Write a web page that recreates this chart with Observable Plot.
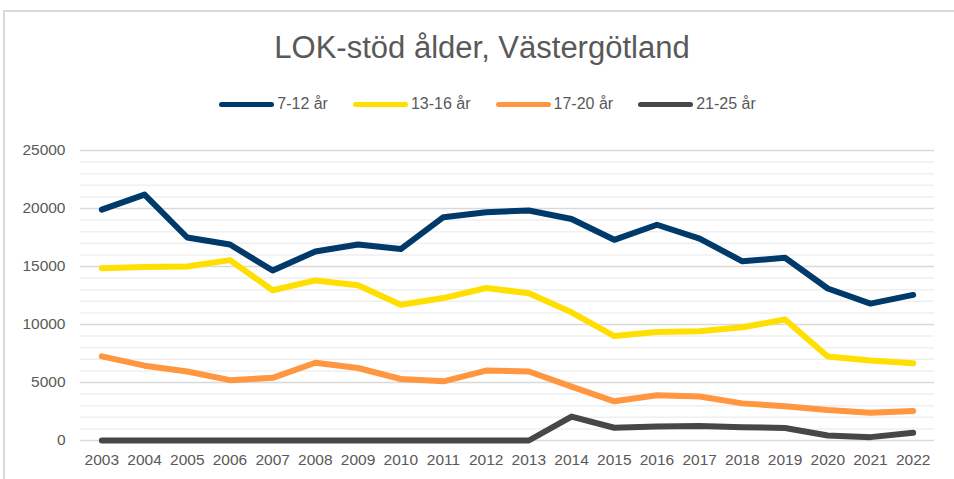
<!DOCTYPE html>
<html>
<head>
<meta charset="utf-8">
<script src="https://cdn.jsdelivr.net/npm/d3@7"></script>
<script src="https://cdn.jsdelivr.net/npm/@observablehq/plot@0.6"></script>
<style>
  html, body { margin: 0; padding: 0; background: #fff; width: 954px; height: 479px; overflow: hidden; }
  body { position: relative; font-family: "Liberation Sans", Arial, sans-serif; color: #595959; }
  #frame { position: absolute; left: 3px; top: 10px; width: 1200px; height: 1200px; border: 2px solid #dadada; box-sizing: border-box; }
  #title { position: absolute; left: 0; top: 32px; width: 964px; text-align: center; font-size: 31px; line-height: 31px; color: #595959; }
  #legend { position: absolute; left: 0; top: 96px; width: 975px; display: flex; justify-content: center; gap: 25px; font-size: 16px; line-height: 16px; color: #595959; }
  .item { display: flex; align-items: center; }
  .sw { width: 55px; height: 5px; border-radius: 3px; margin-right: 3px; }
  #chart { position: absolute; left: 0; top: 130px; }
</style>
</head>
<body>
<div id="frame"></div>
<div id="title">LOK-stöd ålder, Västergötland</div>
<div id="legend"></div>
<div id="chart"></div>
<script>
const years = [2003, 2004, 2005, 2006, 2007, 2008, 2009, 2010, 2011, 2012, 2013, 2014, 2015, 2016, 2017, 2018, 2019, 2020, 2021, 2022];
const seriesNames = ["7-12 år", "13-16 år", "17-20 år", "21-25 år"];
const colors = ["#003A6B", "#FFDF00", "#FF9640", "#474747"];
const age7to12 = [19900, 21200, 17500, 16900, 14650, 16300, 16900, 16500, 19250, 19680, 19830, 19100, 17300, 18600, 17400, 15450, 15750, 13100, 11800, 12550];
const age13to16 = [14850, 14950, 15000, 15550, 12950, 13800, 13380, 11700, 12280, 13150, 12700, 11050, 9000, 9350, 9420, 9760, 10430, 7250, 6900, 6650];
const age17to20 = [7250, 6450, 5950, 5200, 5400, 6700, 6250, 5300, 5100, 6030, 5950, 4650, 3380, 3900, 3800, 3200, 2960, 2630, 2400, 2550];
const age21to25 = [0, 0, 0, 0, 0, 0, 0, 0, 0, 0, 0, 2060, 1100, 1200, 1260, 1150, 1080, 430, 290, 660];
const yTicks = [0, 5000, 10000, 15000, 20000, 25000];
const minorTicks = d3.range(0, 25001, 1000);

const allSeries = [age7to12, age13to16, age17to20, age21to25];
const data = [];
seriesNames.forEach((name, i) => {
  years.forEach((yr, j) => data.push({ year: String(yr), value: allSeries[i][j], series: name }));
});

// legend
const legend = document.getElementById("legend");
seriesNames.forEach((name, i) => {
  const it = document.createElement("div");
  it.className = "item";
  it.innerHTML = `<span class="sw" style="background:${colors[i]}"></span><span>${name}</span>`;
  legend.appendChild(it);
});

const chart = Plot.plot({
  width: 954,
  height: 349,
  marginLeft: 80,
  marginRight: 20,
  marginTop: 20,
  marginBottom: 39,
  style: { fontFamily: "'Liberation Sans', Arial, sans-serif", fontSize: "15.5px", color: "#595959", background: "transparent", overflow: "visible" },
  x: { type: "point", domain: years.map(String), padding: 0.5, round: false, label: null },
  y: { domain: [0, 25000], label: null },
  color: { domain: seriesNames, range: colors },
  marks: [
    Plot.ruleY(minorTicks.filter(d => d % 5000 !== 0), { stroke: "#efefef", strokeWidth: 1.5 }),
    Plot.ruleY(yTicks, { stroke: "#d9d9d9", strokeWidth: 1.5 }),
    Plot.axisY({ ticks: yTicks, tickSize: 0, tickPadding: 15, tickFormat: d => String(d), fill: "#595959", label: null }),
    Plot.axisX({ tickSize: 0, tickPadding: 13, fill: "#595959", label: null }),
    Plot.line(data, { x: "year", y: "value", z: "series", stroke: "series", strokeWidth: 6, strokeLinejoin: "round", strokeLinecap: "round" })
  ]
});
document.getElementById("chart").appendChild(chart);
</script>
</body>
</html>
